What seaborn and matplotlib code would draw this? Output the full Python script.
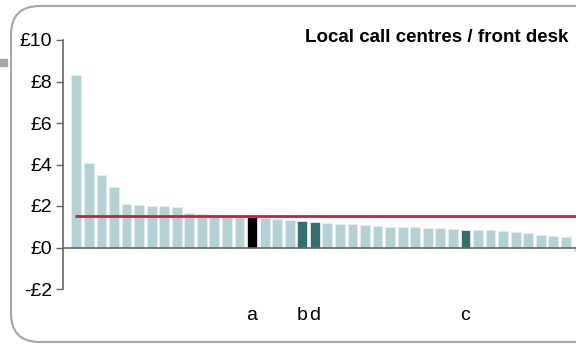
import numpy as np
import matplotlib
matplotlib.use("Agg")
import matplotlib.pyplot as plt
import seaborn as sns
from matplotlib.patches import FancyBboxPatch, Rectangle

# cost per contact, sorted, one bar per authority
costs = [8.31, 4.07, 3.47, 2.91, 2.09, 2.06, 2.02, 2.02, 1.93, 1.64,
         1.61, 1.55, 1.52, 1.49, 1.45, 1.40, 1.38, 1.33, 1.26, 1.21,
         1.18, 1.15, 1.12, 1.10, 1.05, 0.97, 0.97, 0.97, 0.95, 0.95,
         0.89, 0.84, 0.83, 0.83, 0.78, 0.75, 0.71, 0.59, 0.54, 0.51,
         -0.17]
highlight = {14: "a", 18: "b", 19: "d", 31: "c"}
average = 1.53
yticks = [-2, 0, 2, 4, 6, 8, 10]
title = "Local call centres / front desk"

light = "#afd5d8"
teal = "#2f7778"
colors = []
for i in range(len(costs)):
    if highlight.get(i) == "a":
        colors.append("black")
    elif i in highlight:
        colors.append(teal)
    else:
        colors.append(light)

sns.set_style("white")
plt.rcParams["font.family"] = ["Liberation Sans", "DejaVu Sans"]
plt.rcParams["text.color"] = "black"
plt.rcParams["xtick.color"] = "black"
plt.rcParams["ytick.color"] = "black"

fig = plt.figure(figsize=(5.76, 3.44), dpi=100)

# rounded frame (runs off the right edge) and small marker on the left
frame = FancyBboxPatch((11 / 576, 2 / 344), 1.3, 336 / 344,
                       boxstyle="round,pad=0,rounding_size=0.05",
                       transform=fig.transFigure, fill=False,
                       edgecolor="#a6a6a6", linewidth=1.5, clip_on=False,
                       mutation_aspect=576 / 344)
fig.patches.append(frame)
fig.patches.append(Rectangle((0, 278 / 344), 7 / 576, 7 / 344,
                             transform=fig.transFigure, color="#a6a6a6"))

ax = fig.add_axes([63 / 576, 55 / 344, 528 / 576, 249 / 344])
x = np.arange(len(costs))
sns.barplot(x=x, y=costs, palette=colors, hue=x, legend=False,
            width=0.78, edgecolor="#e4f1f2", linewidth=0.5, ax=ax)
ax.hlines(average, -0.1, 41, color="#d8183c", linewidth=2, zorder=5)
ax.axhline(0, color="#666666", linewidth=1.2, zorder=4)

ax.set_xlim(-1.06, 41)
ax.set_ylim(-2, 10)
ax.set_yticks(yticks)
ax.set_yticklabels([f"-£{-v}" if v < 0 else f"£{v}" for v in yticks],
                   fontsize=14)
ax.set_xticks(list(highlight.keys()))
ax.set_xticklabels(list(highlight.values()), fontsize=14)
ax.tick_params(axis="x", length=0, pad=13)
ax.tick_params(axis="y", length=5, width=1, color="#666666", left=True, pad=3)
for s in ["top", "right", "bottom"]:
    ax.spines[s].set_visible(False)
ax.spines["left"].set_color("#666666")
ax.spines["left"].set_linewidth(1.2)

fig.text(568 / 576, 1 - 38 / 344, title, ha="right", va="center",
         fontsize=13.5, fontweight="bold")

fig.savefig("out.png", dpi=100)
